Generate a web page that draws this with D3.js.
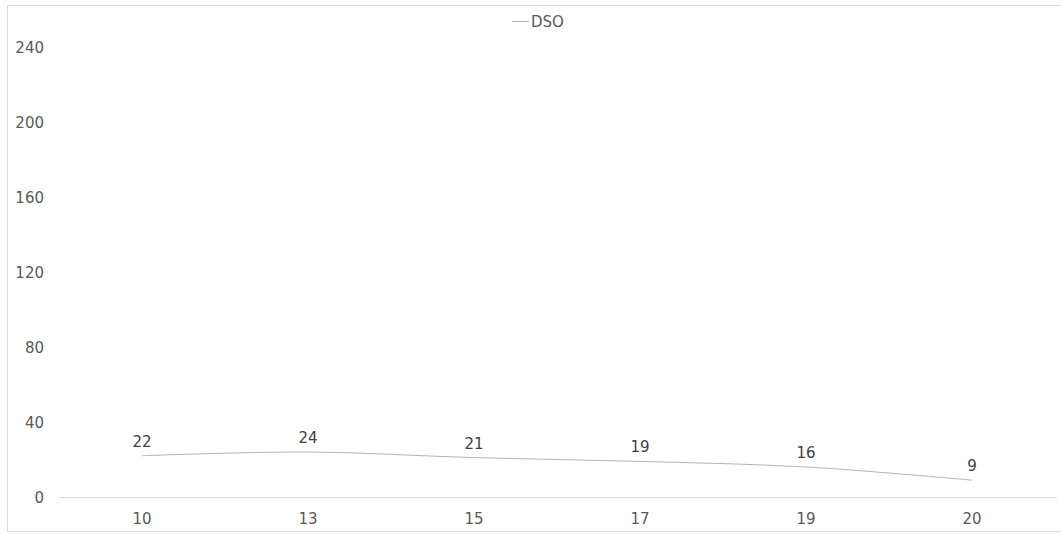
<!DOCTYPE html>
<html><head><meta charset="utf-8">
<script src="https://cdn.jsdelivr.net/npm/d3@7"></script>
<style>body{margin:0;background:#fff}svg{display:block}text{font-family:"DejaVu Sans",Verdana,sans-serif}</style>
</head><body><svg id="c" width="1061" height="534"></svg>
<script>
const categories = ["10","13","15","17","19","20"];
const dso = [22, 24, 21, 19, 16, 9];
const yTicks = [0, 40, 80, 120, 160, 200, 240];
const seriesName = "DSO";

const svg = d3.select("#c");
svg.append("rect").attr("x",7.5).attr("y",5.5).attr("width",1060).attr("height",526)
  .attr("fill","#fff").attr("stroke","#d9d9d9");

const x = d3.scaleBand().domain(categories).range([59,1055]);
const y = d3.scaleLinear().domain([0,240]).range([497,47]);

svg.append("g").selectAll("text").data(yTicks).join("text")
  .attr("x",44).attr("y",d=>y(d)+5.5).attr("text-anchor","end")
  .attr("font-size",15).attr("fill","#595959").text(d=>d);

svg.append("line").attr("x1",59).attr("x2",1057).attr("y1",y(0)+0.5).attr("y2",y(0)+0.5)
  .attr("stroke","#d9d9d9").attr("stroke-width",1);

svg.append("g").selectAll("text").data(categories).join("text")
  .attr("x",d=>x(d)+x.bandwidth()/2).attr("y",524).attr("text-anchor","middle")
  .attr("font-size",15).attr("fill","#595959").text(d=>d);

const cx = (d,i)=>x(categories[i])+x.bandwidth()/2;
const line = d3.line().x(cx).y(d=>y(d)).curve(d3.curveCatmullRom.alpha(0.5));
svg.append("path").datum(dso).attr("d",line).attr("fill","none")
  .attr("stroke","#b4b4b4").attr("stroke-width",1);

svg.append("g").selectAll("text").data(dso).join("text")
  .attr("x",cx).attr("y",d=>y(d)-9).attr("text-anchor","middle")
  .attr("font-size",15).attr("fill","#404040").text(d=>d);

svg.append("line").attr("x1",512).attr("x2",529).attr("y1",21.5).attr("y2",21.5)
  .attr("stroke","#b4b4b4").attr("stroke-width",1);
svg.append("text").attr("x",531).attr("y",27).attr("font-size",15)
  .attr("fill","#595959").text(seriesName);
</script></body></html>
